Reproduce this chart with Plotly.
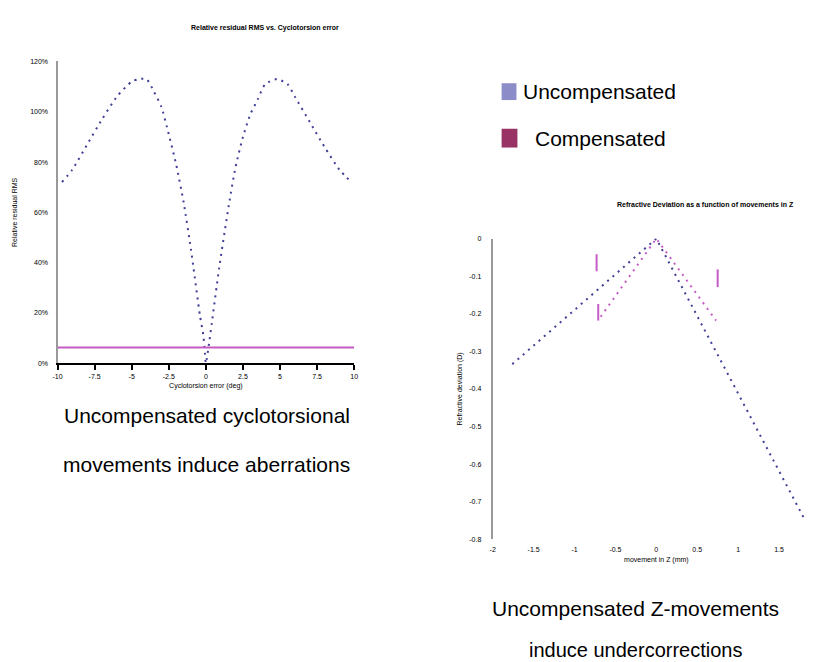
import plotly.graph_objects as go

W, H = 824, 662
SANS = "Liberation Sans, Arial, sans-serif"

# ---------------- Left chart data (relative residual RMS, %) ----------------
cyclo_x = [-9.7, -9, -8, -7, -6, -5, -4.5, -4, -3.5, -3, -2.5, -2, -1.5, -1, -0.4, -0.17, -0.06,
           0.0, 0.24, 0.4, 0.9, 1.55, 2, 2.5, 3, 3.5, 4, 4.8, 5.5, 6, 7, 8, 9, 9.8]
cyclo_y = [72, 77, 87, 97, 106, 112, 113, 113, 108, 102, 91, 79, 64, 45, 19, 11, 4,
           0, 9, 16, 38, 63, 78, 90, 99, 105, 111, 113, 111, 106, 96, 86, 77, 72]
comp_cyclo_x = [-10, 10]
comp_cyclo_y = [6.3, 6.3]
left_xticks = [-10, -7.5, -5, -2.5, 0, 2.5, 5, 7.5, 10]
left_xticklabels = ["-10", "-7.5", "-5", "-2.5", "0", "2.5", "5", "7.5", "10"]
left_yticks = [0, 20, 40, 60, 80, 100, 120]
left_yticklabels = ["0%", "20%", "40%", "60%", "80%", "100%", "120%"]

# ---------------- Right chart data (refractive deviation vs Z movement) ----------------
unc_z_x = [-1.76, 0.0, 1.82]
unc_z_y = [-0.334, 0.0, -0.75]
comp_z_x = [-0.68, 0.0, 0.73]
comp_z_y = [-0.208, 0.0, -0.218]
bar_x = [-0.73, -0.73, None, -0.71, -0.71, None, 0.75, 0.75]
bar_y = [-0.042, -0.087, None, -0.174, -0.218, None, -0.082, -0.129]
right_xticks = [-2, -1.5, -1, -0.5, 0, 0.5, 1, 1.5, 2]
right_xticklabels = ["-2", "-1.5", "-1", "-0.5", "0", "0.5", "1", "1.5", "2"]
right_yticks = [0, -0.1, -0.2, -0.3, -0.4, -0.5, -0.6, -0.7, -0.8]
right_yticklabels = ["0", "-0.1", "-0.2", "-0.3", "-0.4", "-0.5", "-0.6", "-0.7", "-0.8"]

BLUE = "#3f3f96"
PINK = "#c45cc4"
DOTS = "2px,5px"


def px_x(p):
    return p / W


def px_y(p):
    return 1 - p / H


fig = go.Figure()

# Left chart traces
fig.add_trace(go.Scatter(x=cyclo_x, y=cyclo_y, mode="lines",
                         line=dict(color=BLUE, width=2, dash=DOTS, shape="spline", smoothing=0.6),
                         xaxis="x", yaxis="y", showlegend=False))
fig.add_trace(go.Scatter(x=comp_cyclo_x, y=comp_cyclo_y, mode="lines", line=dict(color=PINK, width=2),
                         xaxis="x", yaxis="y", showlegend=False))

# Right chart traces
fig.add_trace(go.Scatter(x=unc_z_x, y=unc_z_y, mode="lines", line=dict(color=BLUE, width=2, dash=DOTS),
                         xaxis="x2", yaxis="y2", showlegend=False))
fig.add_trace(go.Scatter(x=comp_z_x, y=comp_z_y, mode="lines", line=dict(color=PINK, width=2, dash=DOTS),
                         xaxis="x2", yaxis="y2", showlegend=False))
fig.add_trace(go.Scatter(x=bar_x, y=bar_y, mode="lines", line=dict(color=PINK, width=2),
                         xaxis="x2", yaxis="y2", showlegend=False, connectgaps=False))

tickfont = dict(family=SANS, size=7, color="black")
titlefont = dict(family=SANS, size=7, color="black")

left_xdom = [px_x(45), px_x(345)]
left_ydom = [px_y(355), px_y(50)]
right_xdom = [px_x(485), px_x(816)]
right_ydom = [px_y(533), px_y(229)]
right_xrange = [-2, 2.002]

fig.update_layout(
    width=W, height=H,
    margin=dict(l=0, r=0, t=0, b=0),
    paper_bgcolor="white", plot_bgcolor="white",
    showlegend=False,
    xaxis=dict(domain=left_xdom, anchor="y", range=[-10, 10], tickvals=left_xticks, ticktext=left_xticklabels,
               showline=True, linecolor="black", linewidth=2, ticks="outside", ticklen=5,
               tickcolor="black", tickwidth=2, showgrid=False, zeroline=False, tickfont=tickfont,
               title=dict(text="Cyclotorsion error (deg)", font=titlefont, standoff=4)),
    yaxis=dict(domain=left_ydom, anchor="x", range=[0, 120], tickvals=left_yticks, ticktext=left_yticklabels,
               showline=True, linecolor="#999999", linewidth=2, ticks="", showgrid=False, zeroline=False,
               tickfont=tickfont, ticklabelstandoff=6,
               title=dict(text="Relative residual RMS", font=titlefont, standoff=12)),
    yaxis3=dict(overlaying="y", anchor="free", position=px_x(195), range=[0, 120], tickvals=left_yticks,
                showticklabels=False, showline=True, linecolor="black", linewidth=2, ticks="outside",
                ticklen=4, tickcolor="black", tickwidth=2, showgrid=False, zeroline=False),
    xaxis2=dict(domain=right_xdom, anchor="y2", range=right_xrange, tickvals=right_xticks,
                ticktext=right_xticklabels,
                showline=False, ticks="", showgrid=False, zeroline=False, tickfont=tickfont,
                ticklabelstandoff=5, ticklabeloverflow="allow",
                title=dict(text="movement in Z (mm)", font=titlefont, standoff=4)),
    xaxis3=dict(overlaying="x2", anchor="y2", side="top", range=right_xrange, tickvals=[-1.5, -1, -0.5, 0.5],
                showticklabels=False, showline=False, ticks="inside", ticklen=6, tickwidth=2,
                tickcolor="black", showgrid=False, zeroline=False),
    yaxis2=dict(domain=right_ydom, anchor="x2", range=[-0.8, 0], tickvals=right_yticks, ticktext=right_yticklabels,
                showline=True, linecolor="#999999", linewidth=2, ticks="", showgrid=False, zeroline=False,
                tickfont=tickfont, ticklabelstandoff=8,
                title=dict(text="Refractive deviation (D)", font=titlefont, standoff=6)),
    yaxis4=dict(overlaying="y2", anchor="free", position=px_x(653), range=[-0.8, 0],
                tickvals=[-0.2, -0.3, -0.4, -0.5, -0.6, -0.7, -0.8], showticklabels=False,
                showline=False, ticks="outside", ticklen=5, tickwidth=2, tickcolor="black",
                showgrid=False, zeroline=False),
)

annotations = [
    dict(text="<b>Relative residual RMS vs. Cyclotorsion error</b>", x=px_x(255), y=px_y(16),
         font=dict(family=SANS, size=7)),
    dict(text="<b>Refractive Deviation as a function of movements in Z</b>", x=px_x(700), y=px_y(195),
         font=dict(family=SANS, size=7)),
    dict(text="Uncompensated", x=px_x(514), y=px_y(80), xanchor="left", font=dict(family=SANS, size=21)),
    dict(text="Compensated", x=px_x(526), y=px_y(128), xanchor="left", font=dict(family=SANS, size=21)),
    dict(text="Uncompensated cyclotorsional", x=px_x(196), y=px_y(408), font=dict(family=SANS, size=21)),
    dict(text="movements induce aberrations", x=px_x(196), y=px_y(457), font=dict(family=SANS, size=21)),
    dict(text="Uncompensated Z-movements", x=px_x(629), y=px_y(603), font=dict(family=SANS, size=21)),
    dict(text="induce undercorrections", x=px_x(629), y=px_y(645), font=dict(family=SANS, size=20)),
]
for a in annotations:
    a.update(xref="paper", yref="paper", showarrow=False)
    a.setdefault("xanchor", "center")
    a["yanchor"] = "middle"
    a["font"]["color"] = "black"
fig.update_layout(annotations=annotations)

fig.update_layout(shapes=[
    dict(type="rect", xref="paper", yref="paper", x0=px_x(494), x1=px_x(509), y0=px_y(89), y1=px_y(72),
         fillcolor="#8c8cc8", line=dict(width=0)),
    dict(type="rect", xref="paper", yref="paper", x0=px_x(494), x1=px_x(510), y0=px_y(137), y1=px_y(118),
         fillcolor="#993366", line=dict(width=0)),
])

fig.write_html("out.html")
